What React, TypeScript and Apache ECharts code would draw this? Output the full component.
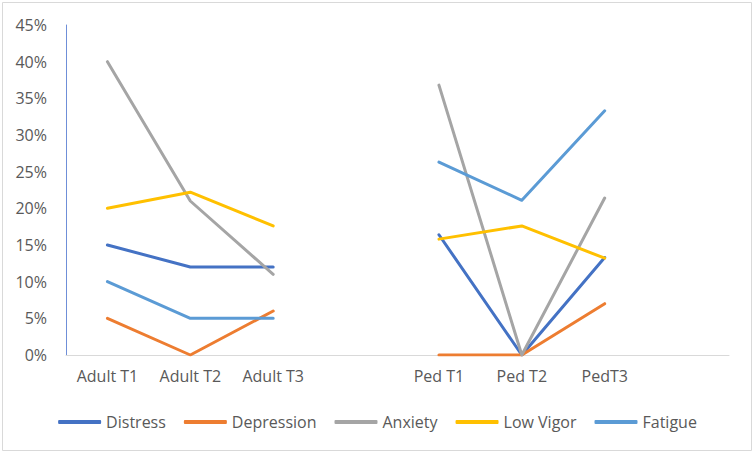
import React, { useEffect, useRef } from "react";
import * as echarts from "echarts";

const categories = ["Adult T1", "Adult T2", "Adult T3", "", "Ped T1", "Ped T2", "PedT3", ""];
const yTicks = { min: 0, max: 45, interval: 5 };

const distress = [15, 12, 12, null, 16.4, 0, 13.3, null];
const depression = [5, 0, 6, null, 0, 0, 7, null];
const anxiety = [40, 21, 11, null, 36.8, 0, 21.4, null];
const lowVigor = [20, 22.2, 17.6, null, 15.8, 17.6, 13.2, null];
const fatigue = [10, 5, 5, null, 26.3, 21.1, 33.3, null];

const seriesNames = ["Distress", "Depression", "Anxiety", "Low Vigor", "Fatigue"];
const seriesData = [distress, depression, anxiety, lowVigor, fatigue];
const colors = ["#4472C4", "#ED7D31", "#A5A5A5", "#FFC000", "#5B9BD5"];

const FONT = "Open Sans";

export default function App() {
  const ref = useRef<HTMLDivElement>(null);
  useEffect(() => {
    document.body.style.margin = "0";
    const chart = echarts.init(ref.current!, null, { renderer: "svg" });
    chart.setOption({
      animation: false,
      backgroundColor: "#ffffff",
      graphic: [
        {
          type: "rect",
          shape: { x: 2.5, y: 2.5, width: 749, height: 448 },
          style: { fill: "none", stroke: "#d9d9d9", lineWidth: 1 },
          silent: true,
        },
      ],
      grid: { left: 66, right: 26, top: 25, bottom: 99, containLabel: false },
      legend: {
        left: "center",
        top: 409,
        itemWidth: 43,
        itemHeight: 4,
        itemGap: 18,
        icon: "roundRect",
        textStyle: { fontFamily: FONT, fontSize: 16, color: "#595959" },
        data: seriesNames,
      },
      xAxis: {
        type: "category",
        data: categories,
        boundaryGap: true,
        axisLine: { show: true, lineStyle: { color: "#d9d9d9", width: 1 } },
        axisTick: { show: false },
        axisLabel: {
          fontFamily: FONT,
          fontSize: 16,
          color: "#595959",
          margin: 13,
          interval: 0,
        },
        splitLine: { show: false },
      },
      yAxis: {
        type: "value",
        min: yTicks.min,
        max: yTicks.max,
        interval: yTicks.interval,
        axisLine: { show: true, lineStyle: { color: "#6f8fd8", width: 1 } },
        axisTick: { show: false },
        splitLine: { show: false },
        axisLabel: {
          fontFamily: FONT,
          fontSize: 16,
          color: "#595959",
          margin: 19,
          formatter: "{value}%",
        },
      },
      series: seriesNames.map((name, i) => ({
        name,
        type: "line",
        data: seriesData[i],
        symbol: "none",
        connectNulls: false,
        color: colors[i],
        lineStyle: { width: 3, color: colors[i], cap: "round", join: "round" },
        itemStyle: { color: colors[i] },
      })),
    });
    return () => chart.dispose();
  }, []);
  return <div ref={ref} style={{ width: 755, height: 454 }} />;
}
